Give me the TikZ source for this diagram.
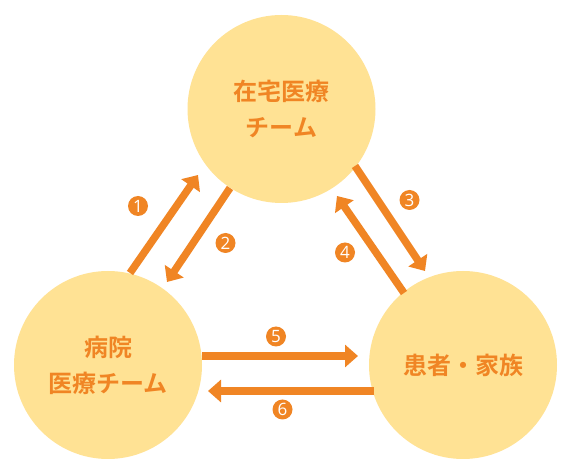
\documentclass[tikz,border=0pt]{standalone}
\usepackage{fontspec}
\newfontfamily\cjk{Noto Sans CJK JP}[BoldFont={Noto Sans CJK JP Bold}]
\newfontfamily\numfont{Open Sans}
\usetikzlibrary{arrows.meta}
\definecolor{cfill}{HTML}{FFE294}
\definecolor{corange}{HTML}{F08524}
\begin{document}
\begin{tikzpicture}[x=1pt,y=-1pt,
  party/.style={circle,fill=cfill,minimum size=188pt,inner sep=0pt,align=center,
    text=corange,font=\cjk\bfseries\fontsize{24}{36}\selectfont},
  flow/.style={draw=corange,line width=7.5pt,-{Triangle[length=13pt,width=22pt]}},
  num/.style={circle,fill=corange,minimum size=20pt,inner sep=0pt,text=white,
    font=\numfont\fontsize{17}{17}\selectfont}]
\fill[white] (0,0) rectangle (579,470);
\useasboundingbox (0,0) rectangle (579,470);

\node[party] (home) at (281.5,109) {在宅医療\\チーム};
\node[party] (hosp) at (108,365) {病院\\医療チーム};
\node[party] (pat) at (463,365) {患者・家族};

\coordinate (a1s) at (130,273);   \coordinate (a1e) at (198,175);
\coordinate (a2s) at (230,188);   \coordinate (a2e) at (167,282);
\coordinate (a3s) at (355,166);   \coordinate (a3e) at (425,271);
\coordinate (a4s) at (404,293);   \coordinate (a4e) at (337,196);
\coordinate (a5s) at (202,356);   \coordinate (a5e) at (358,356);
\coordinate (a6s) at (374,391);   \coordinate (a6e) at (208,391);

\draw[flow] (a1s) -- (a1e);
\draw[flow] (a2s) -- (a2e);
\draw[flow] (a3s) -- (a3e);
\draw[flow] (a4s) -- (a4e);
\draw[flow] (a5s) -- (a5e);
\draw[flow] (a6s) -- (a6e);

\node[num] (n1) at (138,206) {1};
\node[num] (n2) at (225.5,243) {2};
\node[num] (n3) at (409.5,200) {3};
\node[num] (n4) at (345,252.5) {4};
\node[num] (n5) at (276,336.5) {5};
\node[num] (n6) at (282.5,409.5) {6};
\end{tikzpicture}
\end{document}
